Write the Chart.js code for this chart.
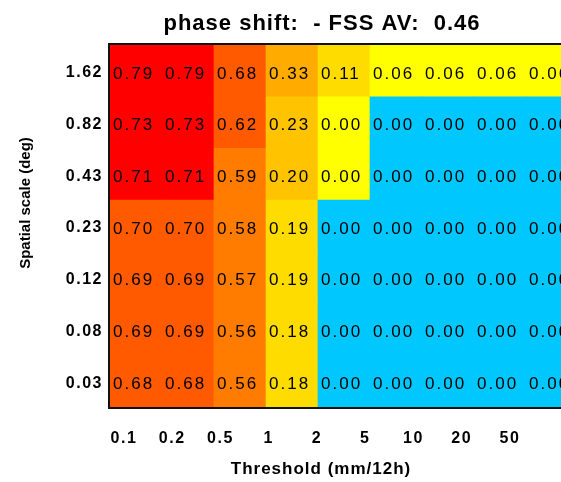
<!DOCTYPE html>
<html>
<head>
<meta charset="utf-8">
<script src="https://cdn.jsdelivr.net/npm/chart.js@4/dist/chart.umd.min.js"></script>
<style>
  html, body { margin: 0; padding: 0; background: #fff; overflow: hidden; }
  #wrap { width: 644px; height: 482px; }
</style>
</head>
<body>
<div id="wrap"><canvas id="heat" width="644" height="482"></canvas></div>
<script>
const thresholds = ['0.1', '0.2', '0.5', '1', '2', '5', '10', '20', '50'];
// spatial scales, bottom row first
const spatialScales = ['0.03', '0.08', '0.12', '0.23', '0.43', '0.82', '1.62'];

// FSS for each spatial scale, one value per threshold
const fss003 = [0.68, 0.68, 0.56, 0.18, 0, 0, 0, 0, 0];
const fss008 = [0.69, 0.69, 0.56, 0.18, 0, 0, 0, 0, 0];
const fss012 = [0.69, 0.69, 0.57, 0.19, 0, 0, 0, 0, 0];
const fss023 = [0.70, 0.70, 0.58, 0.19, 0, 0, 0, 0, 0];
const fss043 = [0.71, 0.71, 0.59, 0.20, 0.001, 0, 0, 0, 0];
const fss082 = [0.73, 0.73, 0.62, 0.23, 0.001, 0, 0, 0, 0];
const fss162 = [0.79, 0.79, 0.68, 0.33, 0.11, 0.06, 0.06, 0.06, 0.06];
const rows = [fss003, fss008, fss012, fss023, fss043, fss082, fss162];

const chartTitle = 'phase shift:  - FSS AV:  0.46';
const xTitle = 'Threshold (mm/12h)';
const yTitle = 'Spatial scale (deg)';

function fssColor(v) {
  if (v > 0.70) return '#ff0000';
  if (v >= 0.6) return '#ff5a00';
  if (v >= 0.5) return '#ff7c00';
  if (v >= 0.3) return '#ffab00';
  if (v >= 0.2) return '#ffc300';
  if (v >= 0.1) return '#ffdc00';
  if (v > 0) return '#ffff00';
  return '#00c8ff';
}

const FONT = '"Liberation Sans", Arial, Helvetica, sans-serif';
// the tick row under the map is a bit narrower than the cells
const XT_MIN = -0.29, XT_MAX = 9.41;

const datasets = rows.map((vals, r) => ({
  label: spatialScales[r],
  data: vals.map(() => [r - 0.5, r + 0.5]),
  backgroundColor: vals.map(fssColor),
  borderWidth: 0,
  barPercentage: 1,
  categoryPercentage: 1,
  grouped: false
}));

const heatExtras = {
  id: 'heatExtras',
  beforeDraw(chart) {
    chart.ctx.letterSpacing = '1.5px';
  },
  afterDatasetsDraw(chart) {
    const ctx = chart.ctx;
    const xs = chart.scales.x, ys = chart.scales.y;
    const cw = xs.getPixelForValue(1) - xs.getPixelForValue(0);
    ctx.save();
    ctx.font = '17px ' + FONT;
    ctx.letterSpacing = '2px';
    ctx.fillStyle = '#000';
    ctx.textAlign = 'left';
    ctx.textBaseline = 'middle';
    rows.forEach((vals, r) => {
      vals.forEach((v, c) => {
        ctx.fillText(v.toFixed(2), xs.getPixelForValue(c) - cw / 2 + 3, ys.getPixelForValue(r) + 3);
      });
    });
    // frame
    const a = chart.chartArea;
    ctx.strokeStyle = '#111';
    ctx.lineWidth = 2;
    ctx.strokeRect(a.left - 1, a.top - 1, a.right - a.left + 2, a.bottom - a.top + 2);
    ctx.restore();
  },
  afterDraw(chart) {
    const ctx = chart.ctx;
    const a = chart.chartArea;
    ctx.save();
    ctx.fillStyle = '#000';
    ctx.textAlign = 'center';
    ctx.textBaseline = 'middle';
    ctx.font = 'bold 22px ' + FONT;
    ctx.letterSpacing = '1px';
    ctx.fillText(chartTitle, 322, 24);
    ctx.font = 'bold 17px ' + FONT;
    ctx.fillText(xTitle, 321, a.bottom + 62);
    ctx.font = 'bold 15px ' + FONT;
    ctx.letterSpacing = '0px';
    ctx.translate(26, 203);
    ctx.rotate(-Math.PI / 2);
    ctx.fillText(yTitle, 0, 0);
    ctx.restore();
  }
};

new Chart(document.getElementById('heat'), {
  type: 'bar',
  data: { labels: thresholds, datasets: datasets },
  options: {
    responsive: false,
    animation: false,
    layout: { padding: { left: 0, right: 66, top: 45, bottom: 0 } },
    plugins: {
      legend: { display: false },
      tooltip: { enabled: false },
      title: { display: false }
    },
    scales: {
      x: { type: 'category', display: false, offset: true },
      xt: {
        type: 'linear',
        position: 'bottom',
        bounds: 'data',
        offset: false,
        min: XT_MIN,
        max: XT_MAX,
        grid: { display: false, drawTicks: false, offset: false },
        border: { display: false },
        afterBuildTicks: s => {
          s.ticks = thresholds.map((_, i) => ({ value: i }));
        },
        afterFit: s => { s.height = 75; },
        ticks: {
          autoSkip: false,
          maxRotation: 0,
          padding: 22,
          color: '#000',
          font: { family: FONT, size: 16, weight: 'bold' },
          callback: v => thresholds[v]
        }
      },
      y: {
        type: 'linear',
        min: -0.5,
        max: 6.5,
        grid: { display: false, drawTicks: false },
        border: { display: false },
        afterBuildTicks: s => { s.ticks = spatialScales.map((_, i) => ({ value: i })); },
        afterFit: s => { s.width = 110; },
        ticks: {
          padding: 7,
          labelOffset: 2,
          color: '#000',
          font: { family: FONT, size: 16, weight: 'bold' },
          callback: v => spatialScales[v]
        }
      }
    }
  },
  plugins: [heatExtras]
});
</script>
</body>
</html>
